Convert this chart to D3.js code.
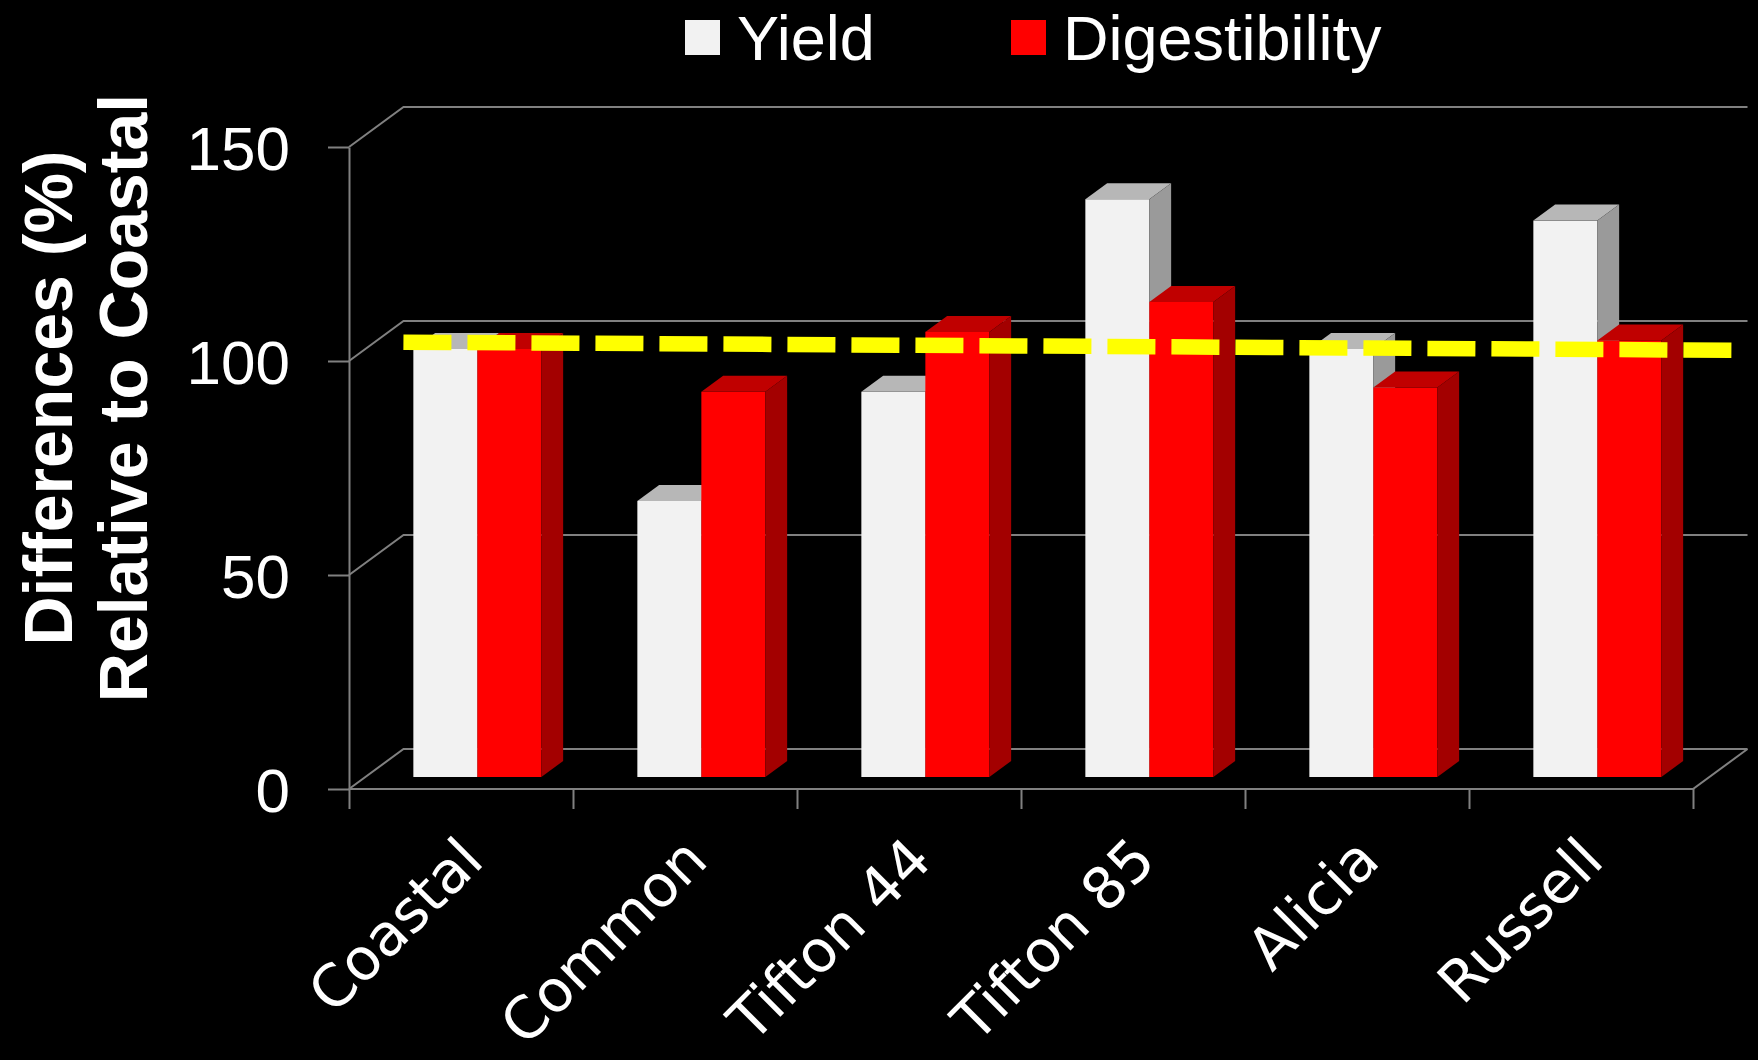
<!DOCTYPE html>
<html>
<head>
<meta charset="utf-8">
<script src="https://cdn.jsdelivr.net/npm/d3@7"></script>
<style>
  html, body { margin: 0; padding: 0; background: #000; }
  svg { display: block; }
</style>
</head>
<body>
<svg id="chart" width="1758" height="1060"></svg>
<script>
const categories = ['Coastal', 'Common', 'Tifton 44', 'Tifton 85', 'Alicia', 'Russell']
const seriesNames = ['Yield', 'Digestibility']
const yieldValues = [100, 64.5, 90, 135, 100, 130]
const digestValues = [100, 90, 104, 111, 91, 102]
const yTicks = [0, 50, 100, 150]
// hand drawn dashed line: position in category units, value
const refLinePos = [0.17, 6.1]
const refLineValues = [101.6, 99.7]

const WIDTH = 1758
const HEIGHT = 1060
const FLOOR_DX = 54.5, FLOOR_DY = -40 // depth of the 3d box
const BAR_FRONT = 0.3, BAR_DEPTH = 0.4 // fractions of the box depth

const faceColours = {
	Yield: { front: '#f2f2f2', top: '#b7b7b7', side: '#9a9a9a' },
	Digestibility: { front: '#ff0000', top: '#c00000', side: '#a30000' }
}

const svg = d3.select('#chart')
svg.append('rect').attr('width', WIDTH).attr('height', HEIGHT).attr('fill', '#000')

const x = d3.scaleBand().domain(categories).range([349, 1693])
const xSeries = d3.scaleBand().domain(seriesNames).range([0, x.bandwidth()]).paddingOuter(0.75)
const xPos = d3.scaleLinear().domain([0, categories.length]).range(x.range())
const y = d3.scaleLinear().domain([0, 150]).range([789, 147])

const gridColour = '#808080'

// back wall gridlines
svg.append('g')
	.selectAll('path')
	.data(yTicks)
	.enter()
	.append('path')
	.attr('d', d => `M${x.range()[0]},${y(d)} l${FLOOR_DX},${FLOOR_DY} H${x.range()[1] + FLOOR_DX}`)
	.attr('fill', 'none')
	.attr('stroke', gridColour)
	.attr('stroke-width', 2)

// floor front + right edge
svg.append('path')
	.attr('d', `M${x.range()[0]},${y(0)} H${x.range()[1]} l${FLOOR_DX},${FLOOR_DY}`)
	.attr('fill', 'none')
	.attr('stroke', gridColour)
	.attr('stroke-width', 2)

// y axis
const yAxis = svg.append('g')
	.attr('transform', `translate(${x.range()[0]},0)`)
	.call(d3.axisLeft(y).tickValues(yTicks).tickSize(21).tickSizeOuter(0).tickPadding(38))
yAxis.select('.domain').attr('stroke', gridColour).attr('stroke-width', 2)
yAxis.selectAll('.tick line').attr('stroke', gridColour).attr('stroke-width', 2)
yAxis.selectAll('.tick text')
	.attr('fill', '#fff')
	.attr('dy', '0.36em')
	.style('font-family', '"Liberation Sans", Arial, sans-serif')
	.style('font-size', '62px')

// x axis ticks at category boundaries
const xAxis = svg.append('g')
	.attr('transform', `translate(0,${y(0)})`)
	.call(d3.axisBottom(xPos).tickValues(d3.range(categories.length + 1)).tickSize(20).tickSizeOuter(0).tickFormat(''))
xAxis.select('.domain').remove()
xAxis.selectAll('.tick line').attr('stroke', gridColour).attr('stroke-width', 2)

// bars
const fx = FLOOR_DX * BAR_FRONT, fy = FLOOR_DY * BAR_FRONT
const bdx = FLOOR_DX * BAR_DEPTH, bdy = FLOOR_DY * BAR_DEPTH
const bw = xSeries.bandwidth()

const bars = []
categories.forEach((c, i) => {
	bars.push({ cat: c, series: 'Yield', value: yieldValues[i] })
	bars.push({ cat: c, series: 'Digestibility', value: digestValues[i] })
})

svg.append('g')
	.selectAll('g')
	.data(bars)
	.enter()
	.append('g')
	.each(function(d) {
		const g = d3.select(this)
		const xl = x(d.cat) + xSeries(d.series) + fx
		const yt = y(d.value) + fy
		const yb = y(0) + fy
		const col = faceColours[d.series]
		g.append('rect')
			.attr('x', xl).attr('y', yt)
			.attr('width', bw).attr('height', yb - yt)
			.attr('fill', col.front)
		g.append('path')
			.attr('d', `M${xl},${yt} h${bw} l${bdx},${bdy} h${-bw} Z`)
			.attr('fill', col.top)
		g.append('path')
			.attr('d', `M${xl + bw},${yt} l${bdx},${bdy} V${yb + bdy} l${-bdx},${-bdy} Z`)
			.attr('fill', col.side)
	})

// yellow dashed line
const line = d3.line()
	.x(d => xPos(d[0]) + fx)
	.y(d => y(d[1]) + fy)
svg.append('path')
	.attr('d', line(refLinePos.map((p, i) => [p, refLineValues[i]])))
	.attr('fill', 'none')
	.attr('stroke', '#ffff00')
	.attr('stroke-width', 15.5)
	.attr('stroke-dasharray', '48 16')

// category labels
svg.append('g')
	.selectAll('text')
	.data(categories)
	.enter()
	.append('text')
	.attr('transform', d => `translate(${x(d) + x.bandwidth() / 2 + 25},${y(0) + 74}) rotate(-45)`)
	.attr('text-anchor', 'end')
	.attr('fill', '#fff')
	.style('font-family', '"DejaVu Sans", Verdana, sans-serif')
	.style('font-size', '58px')
	.text(d => d)

// y title
const titleLines = ['Differences (%)', 'Relative to Coastal']
svg.append('g')
	.selectAll('text')
	.data(titleLines)
	.enter()
	.append('text')
	.attr('transform', (d, i) => `translate(${72 + i * 75},398) rotate(-90)`)
	.attr('text-anchor', 'middle')
	.attr('fill', '#fff')
	.style('font-family', '"Liberation Sans", Arial, sans-serif')
	.style('font-weight', 'bold')
	.style('font-size', '68px')
	.text(d => d)

// legend
const legendX = [685, 1011]
const legend = svg.append('g')
	.selectAll('g')
	.data(seriesNames)
	.enter()
	.append('g')
	.attr('transform', (d, i) => `translate(${legendX[i]},20)`)
legend.append('rect')
	.attr('width', 35).attr('height', 35)
	.attr('fill', d => faceColours[d].front)
legend.append('text')
	.attr('x', 52).attr('y', 40)
	.attr('fill', '#fff')
	.style('font-family', '"Liberation Sans", Arial, sans-serif')
	.style('font-size', '63px')
	.text(d => d)
</script>
</body>
</html>
